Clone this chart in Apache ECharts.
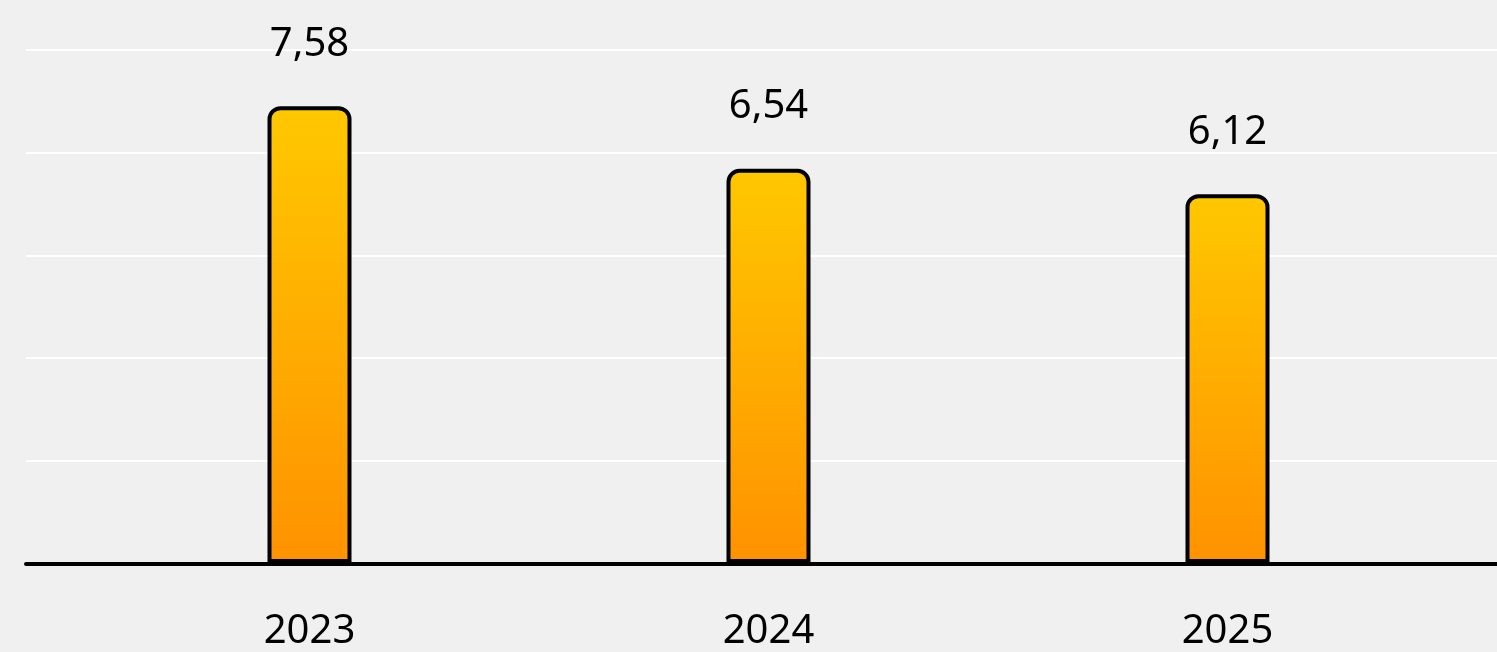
<!doctype html>
<html lang="en">
<head>
    <meta charset="UTF-8">
    <title>Chart</title>
    <style>
        *{
            margin:0;
            padding:0;
        }
        html,body {
            height:100%;
            background:#f0f0f0;
        }
        #main{
            width:1497px;
            height:652px;
        }
    </style>
</head>
<body>
<div id="main"></div>
<script src="https://cdn.jsdelivr.net/npm/echarts@6/dist/echarts.min.js"></script>
<script>
    var years = ['2023', '2024', '2025'];
    var values = [7.58, 6.54, 6.12];

    var yMax = 8.52;
    var yStep = 1.704;

    var myChart = echarts.init(document.getElementById('main'));

    myChart.setOption({
        backgroundColor: '#f0f0f0',
        animation: false,
        grid: [
            // background grid: split lines + axis line across the full width
            {left: 26, right: 0, top: 49.5, bottom: 88},
            // bar grid
            {left: 80, right: 40, top: 49.5, bottom: 88}
        ],
        xAxis: [{
            gridIndex: 0,
            type: 'category',
            data: years,
            axisLine: {
                show: true,
                lineStyle: {color: '#000', width: 4, cap: 'round'}
            },
            axisTick: {show: false},
            axisLabel: {show: false}
        }, {
            gridIndex: 1,
            type: 'category',
            data: years,
            axisLine: {show: false},
            axisTick: {show: false},
            axisLabel: {
                margin: 49,
                color: '#000',
                fontSize: 40,
                fontFamily: 'Noto Sans'
            }
        }],
        yAxis: [{
            gridIndex: 0,
            type: 'value',
            min: 0,
            max: yMax,
            interval: yStep,
            axisLine: {show: false},
            axisTick: {show: false},
            axisLabel: {show: false},
            splitLine: {lineStyle: {color: '#ffffff', width: 2}}
        }, {
            gridIndex: 1,
            type: 'value',
            min: 0,
            max: yMax,
            interval: yStep,
            axisLine: {show: false},
            axisTick: {show: false},
            axisLabel: {show: false},
            splitLine: {show: false}
        }],
        series: [{
            type: 'bar',
            xAxisIndex: 1,
            yAxisIndex: 1,
            data: values,
            barWidth: 84,
            itemStyle: {
                color: new echarts.graphic.LinearGradient(0, 0, 0, 1, [
                    {offset: 0, color: '#ffc800'},
                    {offset: 1, color: '#ff9200'}
                ]),
                borderColor: '#000',
                borderWidth: 4,
                borderRadius: [11, 11, 0, 0]
            },
            label: {
                show: true,
                position: 'top',
                distance: 42,
                color: '#000',
                fontSize: 40,
                fontFamily: 'Noto Sans',
                formatter: function (p) {
                    return String(p.value).replace('.', ',');
                }
            }
        }]
    });
</script>
</body>
</html>
